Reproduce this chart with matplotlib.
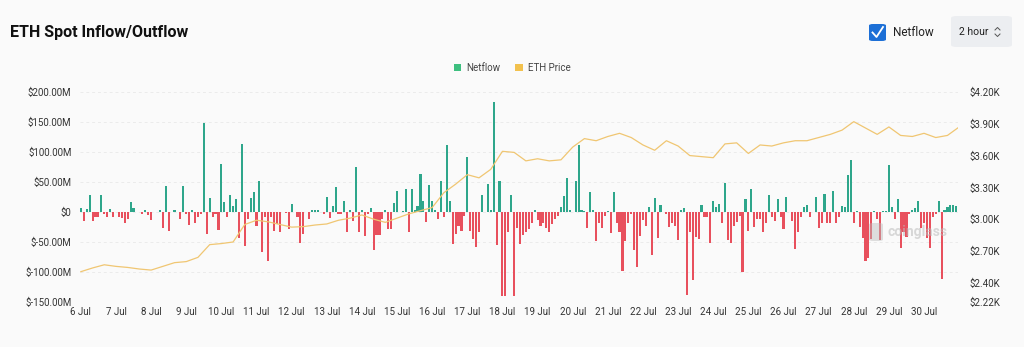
import matplotlib
matplotlib.use("Agg")
from matplotlib import pyplot as plt
import matplotlib.dates as mdates
import matplotlib.ticker as ticker
from matplotlib.patches import FancyBboxPatch, Patch
from matplotlib.lines import Line2D
import pandas as pd

# netflow per 2 hours, in $M, starting 6 Jul 00:00
netflow = [
    6, -15, 5, 28, -15, -8, -8, 28, -4, -8, 5, -8, 0, -8, -10, -19, -12, 17, 7, 0,
    0, -3, 4, -5, -14, 0, 0, 4, -26, 43, -31, 0, 3, 0, -12, 43, -4, -22, 3, -19,
    -8, -3, 148, -36, 24, -8, -3, -30, 80, 17, -8, 29, 10, 21, -44, 113, -57, -12, 24, 34,
    -23, 52, -67, -8, -82, -8, -31, -20, -34, 0, -2, -29, 13, 0, -8, -51, -36, 0, -12, 4,
    4, 4, 0, -3, 25, -10, 10, 41, -4, -4, 19, -34, 3, -15, 75, -34, 3, -40, -3, 6,
    -64, -38, -38, -12, 4, -29, -29, 15, 35, 0, 2, 39, -34, 38, 4, 10, 64, 18, -16, 45,
    18, 3, -12, 51, -8, 112, 18, -54, -37, -23, -31, -7, 92, -31, -45, -58, -34, 28, 0, 46,
    4, 184, -55, 52, -140, -140, -34, 28, -140, -27, -54, -38, -34, -29, -19, 4, -14, -23, -19, -27,
    -33, -20, -12, -7, 8, 27, 56, 3, 0, 51, 112, 4, 2, -27, 33, 3, -49, -18, -26, -7,
    2, -35, 33, -19, -34, -99, -49, -19, -3, -64, -91, -40, -14, -23, 9, -71, 24, -43, 11, 0,
    -4, -25, -18, -23, -47, 4, 7, -138, -34, -113, -41, -45, 11, -8, -8, -52, 19, 8, 13, -19,
    48, -47, -52, -23, -16, -7, -100, 21, -31, 39, -25, -12, -12, -33, -18, 29, -8, -15, 21, -8,
    -29, 25, 0, -15, -62, -34, -9, 8, 12, -8, 0, 25, -27, -18, 30, -18, -18, 35, -18, -8,
    10, 8, 61, 87, -19, 2, -25, -44, -81, -76, -45, 2, -12, -47, 2, 2, 78, 8, -12, 21,
    -60, -34, -41, -4, 4, 6, 18, -27, -19, -43, -60, -8, -4, 19, -112, 3, 8, 11, 11, 10,
]

# ETH price every 8 hours, in $
eth_price = [
    2505, 2540, 2570, 2555, 2545, 2530, 2520, 2555, 2590, 2600, 2640, 2760, 2770, 2785, 2950, 2990,
    2975, 2950, 2925, 2930, 2945, 2955, 2990, 3010, 3040, 3000, 2970, 3010, 3050, 3080, 3110, 3250,
    3330, 3420, 3390, 3470, 3640, 3630, 3550, 3570, 3550, 3560, 3680, 3760, 3740, 3780, 3810, 3770,
    3700, 3650, 3740, 3690, 3600, 3590, 3580, 3710, 3720, 3620, 3700, 3690, 3720, 3740, 3740, 3770,
    3800, 3840, 3920, 3860, 3800, 3870, 3790, 3780, 3810, 3770, 3790, 3870,
]

left_ticks = [200, 150, 100, 50, 0, -50, -100, -150]
right_ticks = [4200, 3900, 3600, 3300, 3000, 2700, 2400, 2220]

green = "#2ea68b"
red = "#e8505d"
gold = "#f0c672"
bg = "#fafafa"

bar_times = pd.date_range("2024-07-06", periods=len(netflow), freq="2h")
price_times = pd.date_range("2024-07-06", periods=len(eth_price), freq="8h")

plt.rcParams["font.family"] = ["Roboto", "DejaVu Sans"]

fig = plt.figure(figsize=(10.24, 3.47), dpi=100, facecolor=bg)
ax = fig.add_axes([0.078, 0.13, 0.8575, 0.605])
ax.set_facecolor(bg)

colors = [green if v >= 0 else red for v in netflow]
ax.bar(bar_times, netflow, width=2 / 24 * 0.72, color=colors, zorder=3)
ax.set_ylim(-150, 200)
ax.set_yticks(left_ticks)


def money_m(v, pos):
    return "$0" if v == 0 else "$%.2fM" % v


ax.yaxis.set_major_formatter(ticker.FuncFormatter(money_m))
ax.grid(axis="y", color="#ebebeb", linestyle=(0, (3, 3)), linewidth=0.7, zorder=0)
ax.xaxis.set_major_locator(mdates.DayLocator())
ax.xaxis.set_major_formatter(mdates.DateFormatter("%-d %b"))
ax.set_xlim(bar_times[0] - pd.Timedelta("40min"), bar_times[-1] + pd.Timedelta("70min"))
ax.tick_params(length=0, labelsize=7, colors="#333333", pad=6)
ax.tick_params(axis="x", pad=4)
for s in ax.spines.values():
    s.set_visible(False)

ax2 = ax.twinx()
ax2.plot(price_times, eth_price, color=gold, linewidth=0.9, zorder=2)
ax2.set_ylim(2220, 4200)
ax2.set_yticks(right_ticks)
ax2.yaxis.set_major_formatter(ticker.FuncFormatter(lambda v, p: "$%.2fK" % (v / 1000)))
ax2.tick_params(length=0, labelsize=7, colors="#333333", pad=8)
for s in ax2.spines.values():
    s.set_visible(False)

# header
fig.text(10 / 1024, 1 - 32 / 347, "ETH Spot Inflow/Outflow", fontsize=11.5, fontweight="bold",
         color="#111111", va="center", ha="left")

box = FancyBboxPatch((869 / 1024, 1 - 41 / 347), 17 / 1024, 17 / 347,
                     boxstyle="round,pad=0,rounding_size=0.004", transform=fig.transFigure,
                     facecolor="#1c6fd6", edgecolor="none")
fig.add_artist(box)
fig.add_artist(Line2D([872.5 / 1024, 876.5 / 1024, 883 / 1024],
                      [1 - 32.5 / 347, 1 - 37 / 347, 1 - 27 / 347],
                      transform=fig.transFigure, color="white", linewidth=1.3))
fig.text(893 / 1024, 1 - 32 / 347, "Netflow", fontsize=8.5, color="#222222", va="center")

btn = FancyBboxPatch((951 / 1024, 1 - 47 / 347), 61 / 1024, 31 / 347,
                     boxstyle="round,pad=0,rounding_size=0.006", transform=fig.transFigure,
                     facecolor="#eceef1", edgecolor="none")
fig.add_artist(btn)
fig.text(959 / 1024, 1 - 32 / 347, "2 hour", fontsize=7.5, color="#222222", va="center")
fig.add_artist(Line2D([995 / 1024, 997.5 / 1024, 1000 / 1024],
                      [1 - 30 / 347, 1 - 27.5 / 347, 1 - 30 / 347],
                      transform=fig.transFigure, color="#555555", linewidth=0.7))
fig.add_artist(Line2D([995 / 1024, 997.5 / 1024, 1000 / 1024],
                      [1 - 34 / 347, 1 - 36.5 / 347, 1 - 34 / 347],
                      transform=fig.transFigure, color="#555555", linewidth=0.7))

# legend
handles = [Patch(facecolor="#3dbf7f", edgecolor="none", label="Netflow"),
           Patch(facecolor="#f2c14e", edgecolor="none", label="ETH Price")]
fig.legend(handles=handles, loc="center", bbox_to_anchor=(0.5, 1 - 68 / 347), ncol=2,
           frameon=False, fontsize=7, handlelength=0.8, handleheight=0.8,
           handletextpad=0.5, columnspacing=1.5, labelcolor="#444444")

# watermark
fig.add_artist(FancyBboxPatch((869 / 1024, 1 - 241 / 347), 14 / 1024, 18 / 347,
                              boxstyle="round,pad=0,rounding_size=0.004",
                              transform=fig.transFigure, facecolor="#bbbbbb",
                              edgecolor="none", alpha=0.45, zorder=5))
fig.text(887 / 1024, 1 - 232 / 347, "coinglass", fontsize=10, fontweight="bold",
         color="#bbbbbb", alpha=0.55, va="center", zorder=5)

fig.savefig("out.png", dpi=100, facecolor=bg)
